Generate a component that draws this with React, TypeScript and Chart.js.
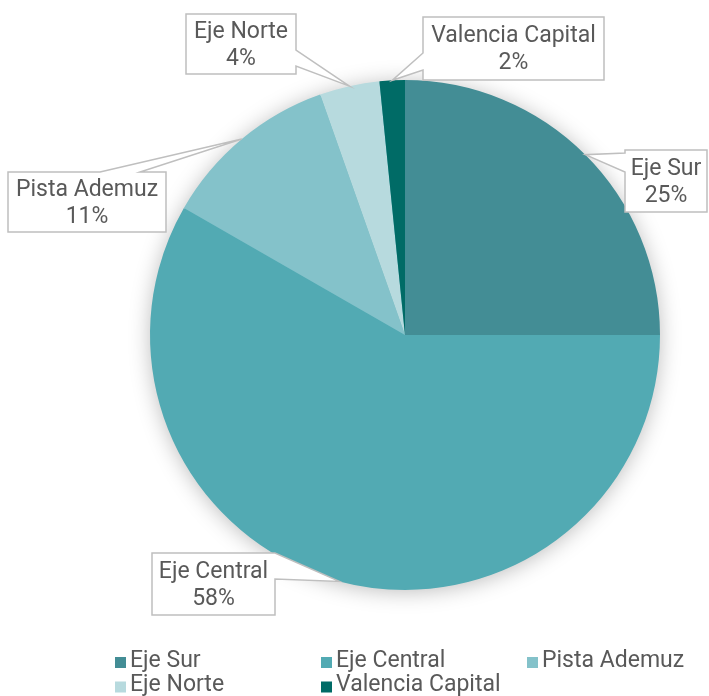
import React, { useEffect, useRef } from "react";
import { Chart, registerables } from "chart.js";

Chart.register(...registerables);

const categories = ["Eje Sur", "Eje Central", "Pista Ademuz", "Eje Norte", "Valencia Capital"];
const values = [25.0, 58.3, 11.3, 3.8, 1.6];
const colors = ["#438D95", "#52AAB3", "#84C2CA", "#B7DADE", "#006B66"];

// callout box layout (x, y, w, h, side where the pointer leaves, start/end offset along side)
const calloutLayout = [
  { x: 625, y: 150, w: 82, h: 62, side: "left", a: 3, b: 22 },
  { x: 152, y: 553, w: 123, h: 62, side: "right", a: 0, b: 26 },
  { x: 8, y: 172, w: 158, h: 60, side: "top", a: 92, b: 132 },
  { x: 186, y: 14, w: 110, h: 60, side: "right", a: 36, b: 52 },
  { x: 423, y: 17, w: 181, h: 63, side: "left", a: 36, b: 53 },
];

const TEXT = "#595959";
const FONT = "Roboto";

const shadowPlugin = {
  id: "pieShadow",
  beforeDatasetsDraw(chart: any) {
    const meta = chart.getDatasetMeta(0);
    const arc = meta.data[0];
    if (!arc) return;
    const { x, y, outerRadius } = arc.getProps(["x", "y", "outerRadius"], true);
    const ctx = chart.ctx;
    ctx.save();
    ctx.shadowColor = "rgba(0,0,0,0.28)";
    ctx.shadowBlur = 22;
    ctx.shadowOffsetX = 0;
    ctx.shadowOffsetY = 2;
    ctx.fillStyle = "#52AAB3";
    ctx.beginPath();
    ctx.arc(x, y, outerRadius - 1, 0, Math.PI * 2);
    ctx.fill();
    ctx.restore();
  },
};

const calloutPlugin = {
  id: "callouts",
  afterDatasetsDraw(chart: any) {
    const ctx = chart.ctx;
    const meta = chart.getDatasetMeta(0);
    const data = chart.data.datasets[0].data as number[];
    const total = data.reduce((s, v) => s + v, 0);
    meta.data.forEach((el: any, i: number) => {
      const p = el.getProps(["x", "y", "startAngle", "endAngle", "outerRadius"], true);
      const mid = (p.startAngle + p.endAngle) / 2;
      const tx = p.x + Math.cos(mid) * p.outerRadius;
      const ty = p.y + Math.sin(mid) * p.outerRadius;
      const L = calloutLayout[i];
      const { x, y, w, h } = L;
      ctx.save();
      ctx.beginPath();
      ctx.moveTo(x, y);
      if (L.side === "top") {
        ctx.lineTo(x + L.a, y);
        ctx.lineTo(tx, ty);
        ctx.lineTo(x + L.b, y);
      }
      ctx.lineTo(x + w, y);
      if (L.side === "right") {
        ctx.lineTo(x + w, y + L.a);
        ctx.lineTo(tx, ty);
        ctx.lineTo(x + w, y + L.b);
      }
      ctx.lineTo(x + w, y + h);
      ctx.lineTo(x, y + h);
      if (L.side === "left") {
        ctx.lineTo(x, y + L.b);
        ctx.lineTo(tx, ty);
        ctx.lineTo(x, y + L.a);
      }
      ctx.closePath();
      ctx.fillStyle = "#FFFFFF";
      ctx.fill();
      ctx.strokeStyle = "#BFBFBF";
      ctx.lineWidth = 1.5;
      ctx.lineJoin = "miter";
      ctx.stroke();
      ctx.fillStyle = TEXT;
      ctx.font = `23px ${FONT}`;
      ctx.textAlign = "center";
      ctx.textBaseline = "middle";
      const pct = Math.round((data[i] / total) * 100) + "%";
      ctx.fillText(chart.data.labels[i], x + w / 2, y + h / 2 - 12);
      ctx.fillText(pct, x + w / 2, y + h / 2 + 15);
      ctx.restore();
    });
  },
};

const legendPlugin = {
  id: "customLegend",
  afterDraw(chart: any) {
    const ctx = chart.ctx;
    const labels = chart.data.labels as string[];
    ctx.save();
    ctx.font = `23px ${FONT}`;
    ctx.textBaseline = "middle";
    ctx.textAlign = "left";
    labels.forEach((lab, i) => {
      const col = i % 3;
      const row = Math.floor(i / 3);
      const bx = 115 + col * 206;
      const by = 661 + row * 24.5;
      ctx.fillStyle = colors[i];
      ctx.fillRect(bx, by - 4, 11, 11);
      ctx.fillStyle = TEXT;
      ctx.fillText(lab, bx + 15, by);
    });
    ctx.restore();
  },
};

export default function App() {
  const ref = useRef<HTMLCanvasElement | null>(null);
  useEffect(() => {
    if (!ref.current) return;
    const chart = new Chart(ref.current, {
      type: "pie",
      data: {
        labels: categories,
        datasets: [
          {
            data: values,
            backgroundColor: colors,
            borderWidth: 0,
          },
        ],
      },
      options: {
        animation: false,
        responsive: true,
        maintainAspectRatio: false,
        layout: { padding: { left: 150, right: 49, top: 80, bottom: 106 } },
        plugins: {
          legend: { display: false },
          tooltip: { enabled: false },
        },
      },
      plugins: [shadowPlugin, calloutPlugin, legendPlugin],
    });
    return () => chart.destroy();
  }, []);
  return (
    <div style={{ position: "fixed", left: 0, top: 0, width: 709, height: 696, background: "#fff" }}>
      <canvas ref={ref} />
    </div>
  );
}
